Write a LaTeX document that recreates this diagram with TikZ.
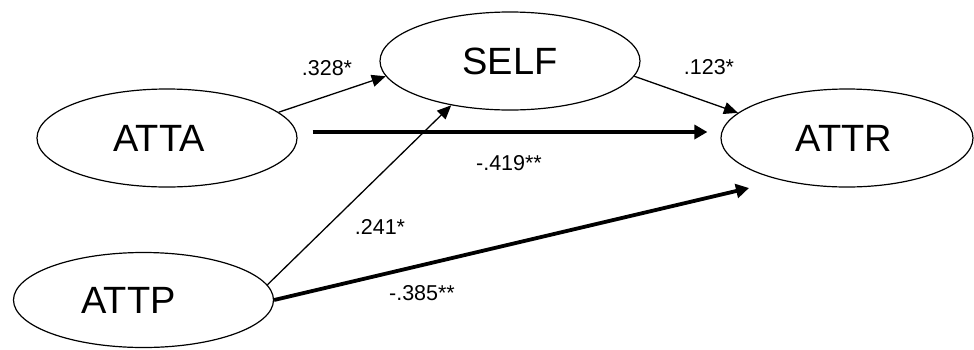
\documentclass[tikz,border=0pt]{standalone}
\usepackage{fontspec}
\setmainfont{Liberation Sans}
\usetikzlibrary{shapes.geometric,arrows.meta}
\tikzset{
  latent/.style={ellipse, draw, line width=1.2pt, inner sep=0pt,
    minimum width=260pt, minimum height=98pt,
    font=\fontsize{38}{42}\selectfont},
  thinarrow/.style={line width=1.3pt, -{Triangle[length=14pt,width=12pt]}},
  thickarrow/.style={line width=3.8pt, -{Triangle[length=13pt,width=14pt]}},
  coef/.style={font=\fontsize{21.5}{24}\selectfont, inner sep=0pt}
}
\begin{document}
\begin{tikzpicture}[x=1pt,y=-1pt]
\useasboundingbox (0,0) rectangle (974,349);
\node[latent] (ATTA) at (167,138) {ATTA\hspace*{16pt}};
\node[latent] (SELF) at (510,61) {SELF};
\node[latent, minimum width=252pt] (ATTR) at (847,138) {ATTR\hspace*{6pt}};
\node[latent, minimum height=95pt] (ATTP) at (143.5,300) {ATTP\hspace*{30pt}};

\coordinate (attpend) at (749,188);

\draw[thinarrow] (ATTA.13) -- (SELF.187);
\draw[thinarrow] (SELF.-7) -- (ATTR.167);
\draw[thickarrow] ([yshift=6pt,xshift=15pt]ATTA.east) -- ([yshift=6pt,xshift=-13pt]ATTR.west);
\draw[thinarrow] (ATTP.7) -- (SELF.217);
\draw[thickarrow] (ATTP.east) -- (attpend);

\node[coef] (c1) at (327,68) {.328*};
\node[coef] (c2) at (709,67) {.123*};
\node[coef] (c3) at (509,163) {-.419**};
\node[coef] (c4) at (380,227) {.241*};
\node[coef] (c5) at (422,293) {-.385**};
\end{tikzpicture}
\end{document}
